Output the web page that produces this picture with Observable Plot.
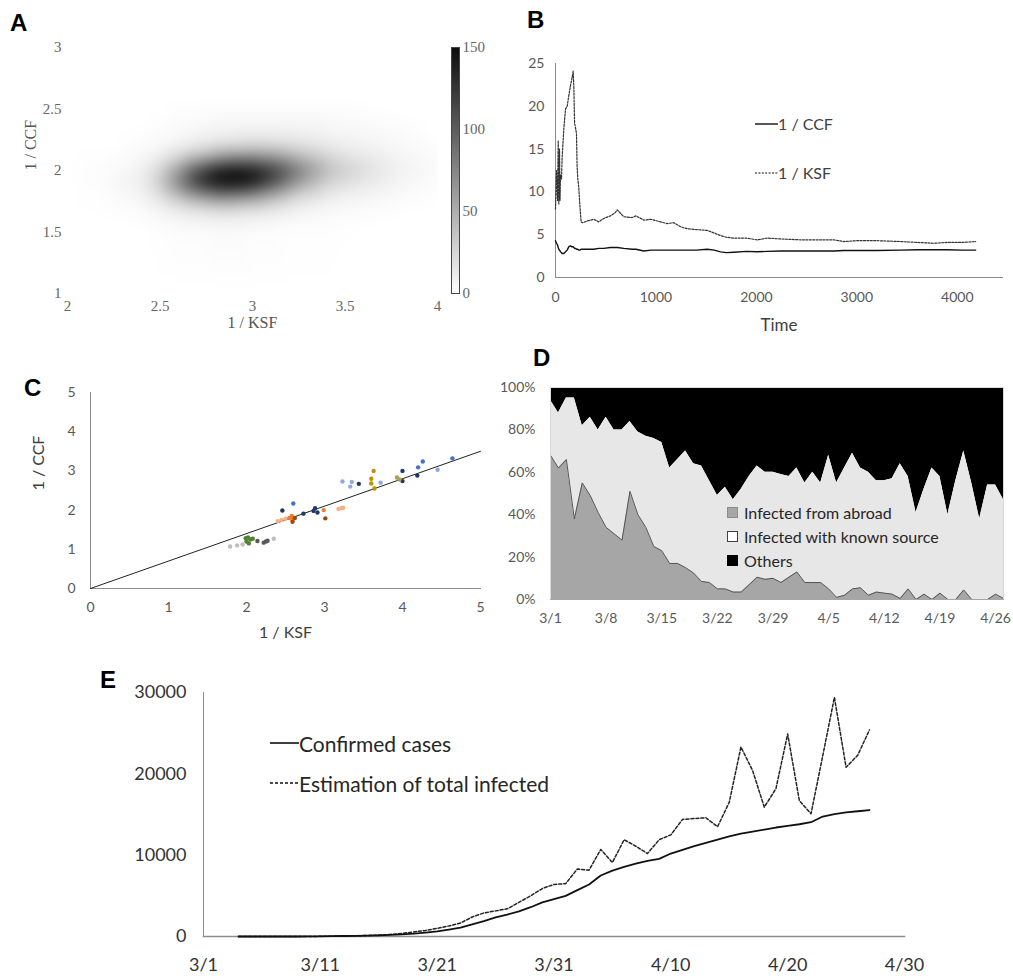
<!DOCTYPE html>
<html>
<head>
<meta charset="utf-8">
<script src="https://cdn.jsdelivr.net/npm/d3@7"></script>
<script src="https://cdn.jsdelivr.net/npm/@observablehq/plot@0.6"></script>
<style>
  body { margin: 0; background: #fff; }
  #root { position: relative; width: 1013px; height: 976px; overflow: hidden; background: #fff; }
  .letter { position: absolute; font-family: "Liberation Sans", Arial, sans-serif; font-weight: bold; font-size: 24px; line-height: 1; color: #000; }
  .leg { position: absolute; display: flex; align-items: center; white-space: nowrap; font-family: Lato, sans-serif; line-height: 1; }
  .leg svg { display: block; }
</style>
</head>
<body>
<div id="root"></div>
<script>
// ================= DATA =================
// Panel A: density of (1/KSF, 1/CCF)
const heatKsf = [2.0, 2.2, 2.4, 2.5, 2.6, 2.7, 2.8, 2.9, 3.0, 3.1, 3.2, 3.3, 3.4, 3.6, 3.8, 4.0];
const heatCcf = [1.0, 1.5, 1.6, 1.7, 1.8, 1.9, 2.0, 2.1, 2.2, 2.3, 2.4, 2.5, 2.6, 3.0];
const heatCount = [
  [0, 0, 0, 0, 0, 0, 0, 0, 0, 0, 0, 0, 0, 0, 0, 0],
  [0, 0, 0, 1, 2, 2, 3, 3, 2, 2, 1, 1, 1, 0, 0, 0],
  [0, 0, 1, 3, 5, 7, 8, 8, 7, 5, 4, 3, 2, 1, 0, 0],
  [0, 1, 3, 8, 15, 22, 28, 28, 24, 18, 12, 8, 5, 3, 1, 0],
  [0, 1, 6, 18, 40, 65, 82, 82, 72, 52, 34, 22, 13, 7, 3, 1],
  [0, 2, 10, 30, 75, 122, 146, 150, 142, 112, 76, 48, 28, 14, 6, 2],
  [0, 2, 8, 25, 62, 108, 138, 148, 144, 124, 96, 68, 42, 21, 9, 2],
  [0, 1, 4, 10, 26, 46, 66, 76, 78, 70, 58, 42, 28, 15, 7, 2],
  [0, 0, 2, 4, 8, 14, 20, 24, 26, 25, 22, 18, 13, 8, 4, 1],
  [0, 0, 1, 2, 4, 6, 8, 9, 10, 10, 10, 9, 7, 5, 3, 0],
  [0, 0, 0, 1, 2, 3, 4, 5, 5, 5, 5, 5, 4, 3, 1, 0],
  [0, 0, 0, 0, 1, 1, 2, 2, 2, 2, 2, 2, 2, 1, 0, 0],
  [0, 0, 0, 0, 0, 0, 0, 0, 0, 0, 0, 0, 0, 0, 0, 0],
  [0, 0, 0, 0, 0, 0, 0, 0, 0, 0, 0, 0, 0, 0, 0, 0]
];
const heatTicksX = [2, 2.5, 3, 3.5, 4];
const heatTicksY = [1, 1.5, 2, 2.5, 3];
const colorbarTicks = [0, 50, 100, 150];
const aLabels = ["1 / KSF", "1 / CCF"];

// Panel B: time series
const bTime = [0, 10, 20, 27, 33, 40, 45, 50, 60, 66, 83, 100, 116, 133, 150, 160, 176, 183, 190, 199, 209, 215, 222, 232, 242, 255, 270, 315, 381, 430, 481, 547, 597, 614, 680, 763, 800, 879, 950, 1045, 1112, 1178, 1250, 1311, 1400, 1510, 1580, 1643, 1700, 1776, 1900, 2008, 2108, 2250, 2440, 2600, 2772, 2871, 3000, 3200, 3436, 3600, 3768, 3900, 4050, 4183];
const bKsf = [8.0, 12.5, 9.0, 16.0, 8.6, 15.0, 9.0, 12.0, 11.5, 14.0, 17.4, 19.7, 20.0, 21.3, 22.5, 23.0, 24.1, 22.0, 18.0, 17.5, 16.8, 13.0, 11.5, 10.5, 8.5, 6.5, 6.4, 6.6, 6.8, 6.5, 6.9, 7.2, 7.6, 7.9, 7.1, 7.0, 7.2, 6.7, 6.8, 6.5, 6.3, 6.4, 5.9, 5.7, 5.6, 5.5, 5.2, 4.9, 4.7, 4.6, 4.6, 4.4, 4.6, 4.5, 4.4, 4.4, 4.4, 4.2, 4.3, 4.3, 4.2, 4.1, 4.0, 4.1, 4.1, 4.2];
const bCcf = [4.3, 4.0, 3.8, 3.5, 3.3, 3.2, 3.1, 3.0, 2.9, 2.8, 2.8, 3.0, 3.2, 3.6, 3.7, 3.6, 3.6, 3.5, 3.4, 3.4, 3.3, 3.3, 3.3, 3.2, 3.2, 3.3, 3.3, 3.3, 3.3, 3.4, 3.4, 3.5, 3.5, 3.5, 3.4, 3.3, 3.3, 3.1, 3.2, 3.2, 3.2, 3.2, 3.2, 3.2, 3.2, 3.3, 3.2, 3.0, 2.9, 2.95, 3.05, 3.0, 3.05, 3.1, 3.1, 3.1, 3.1, 3.15, 3.15, 3.15, 3.2, 3.25, 3.25, 3.25, 3.2, 3.2];
const bTicksX = [0, 1000, 2000, 3000, 4000];
const bTicksY = [0, 5, 10, 15, 20, 25];
const bSeries = ["1 / CCF", "1 / KSF"];
const bAxisLabel = "Time";

// Panel C: points per group and fitted line
const cKsf = [1.99, 2.02, 2.05, 2.08, 2.00, 2.03,
  1.79, 1.88, 1.95, 2.35,
  2.14, 2.22, 2.27, 2.25,
  2.40, 2.45, 2.50, 3.18, 3.22, 3.24,
  2.55, 2.59, 2.99, 2.58,
  2.59, 3.01, 2.62,
  2.60, 4.20, 4.26, 4.64,
  2.46, 2.73, 2.86, 2.88, 2.91, 3.44, 4.00, 4.00, 4.19,
  3.23, 3.33, 3.35, 3.72, 4.45,
  3.63, 3.60, 3.60, 3.64,
  3.93, 3.96];
const cCcf = [1.28, 1.30, 1.25, 1.27, 1.20, 1.15,
  1.07, 1.10, 1.12, 1.27,
  1.21, 1.17, 1.22, 1.20,
  1.72, 1.75, 1.78, 2.03, 2.05, 2.06,
  1.80, 1.75, 2.00, 1.85,
  1.70, 1.79, 1.80,
  2.17, 3.09, 3.24, 3.32,
  1.99, 1.91, 1.98, 2.05, 1.94, 2.67, 3.00, 2.74, 2.88,
  2.73, 2.60, 2.72, 2.70, 3.03,
  3.00, 2.80, 2.68, 2.55,
  2.83, 2.78];
const cGroup = ["g1","g1","g1","g1","g1","g1",
  "g2","g2","g2","g2",
  "g3","g3","g3","g3",
  "g4","g4","g4","g4","g4","g4",
  "g5","g5","g5","g5",
  "g6","g6","g6",
  "g7","g7","g7","g7",
  "g8","g8","g8","g8","g8","g8","g8","g8","g8",
  "g9","g9","g9","g9","g9",
  "g10","g10","g10","g10",
  "g11","g11"];
const cGroupNames = ["g1","g2","g3","g4","g5","g6","g7","g8","g9","g10","g11"];
const cFitKsf = [0, 5];
const cFitCcf = [0, 3.5];
const cTicks = [0, 1, 2, 3, 4, 5];
const cLabels = ["1 / KSF", "1 / CCF"];

// Panel D: daily shares (%), 3/1 .. 4/27
const dAbroad = [68, 62, 66, 38, 55, 49, 41, 34, 31, 28, 51, 40, 34, 25, 23, 17, 17, 15, 12.5, 8.5, 8, 5, 5, 3.5, 3.5, 7, 10.5, 9.5, 10, 8, 10.5, 13, 8, 8, 8, 5, 1, 2, 5, 5.5, 2, 3.5, 3, 2.5, 0.5, 5, 0, 2.5, 0, 3, 0, 0, 4.5, 0, 0, 0, 2.5, 0.5];
const dAbroadOrKnown = [94, 88, 95, 95, 82, 86, 80, 86, 80, 80, 84, 79, 77, 76, 74, 62, 66, 70, 64, 63, 56, 49, 53, 47, 52, 58, 63, 60, 60, 59, 58, 62, 55, 60, 55, 68, 55, 62, 69, 62, 60, 56, 56, 57, 64, 58, 41, 52, 62, 58, 40, 56, 70, 55, 38, 54, 54, 47];
const dTicksY = [0, 20, 40, 60, 80, 100];
const dNames = ["Infected from abroad", "Infected with known source", "Others"];

// Panel E: daily cumulative counts, 3/4 .. 4/27
const eConfirmed = [0, 0, 0, 0, 0, 0, 5, 20, 40, 60, 80, 110, 150, 200, 270, 350, 480, 630, 850, 1100, 1500, 1900, 2350, 2700, 3100, 3600, 4200, 4600, 5000, 5700, 6400, 7500, 8100, 8550, 8950, 9300, 9550, 10200, 10650, 11100, 11500, 11900, 12300, 12650, 12900, 13150, 13400, 13600, 13800, 14050, 14750, 15050, 15250, 15400, 15550];
const eEstimated = [0, 0, 0, 0, 0, 0, 5, 20, 40, 60, 90, 120, 170, 250, 380, 560, 750, 1000, 1300, 1650, 2400, 2900, 3150, 3400, 4200, 5000, 5900, 6400, 6500, 8300, 8150, 10700, 9100, 11900, 11100, 10200, 11900, 12500, 14400, 14500, 14600, 13500, 16500, 23300, 20400, 15900, 18200, 24900, 16700, 15100, 22200, 29400, 20800, 22300, 25400];
const eTicksY = [0, 10000, 20000, 30000];
const eNames = ["Confirmed cases", "Estimation of total infected"];

// ================= HELPERS =================
const root = document.getElementById("root");
function place(el, left, top) {
  el.style.position = "absolute";
  el.style.left = left + "px";
  el.style.top = top + "px";
  el.style.background = "transparent";
  el.style.maxWidth = "none";
  root.appendChild(el);
  return el;
}
function letter(t, left, top) {
  const d = document.createElement("div");
  d.className = "letter"; d.textContent = t;
  d.style.left = left + "px"; d.style.top = top + "px";
  root.appendChild(d);
}
function legendRow(left, centerY, swatch, text, fontSize, color) {
  const d = document.createElement("div");
  d.className = "leg";
  d.style.left = left + "px";
  d.style.top = (centerY - 12) + "px";
  d.style.height = "24px";
  d.style.fontSize = fontSize + "px";
  d.style.color = color;
  d.innerHTML = swatch;
  const s = document.createElement("span");
  s.textContent = text;
  d.appendChild(s);
  root.appendChild(d);
}
const lineSwatch = (w, dash, sw) => `<svg width="${w}" height="10"><line x1="0" x2="${w}" y1="5" y2="5" stroke="#111" stroke-width="${sw}" ${dash ? `stroke-dasharray="${dash}"` : ""}/></svg>`;
const boxSwatch = (fill, stroke) => `<svg width="14" height="12" style="margin-right:3px"><rect x="0.5" y="0.5" width="10" height="10" fill="${fill}" stroke="${stroke}"/></svg>`;
const plain = d => String(d);

const heatColor = {type: "linear", domain: [0, 150], range: ["#ffffff", "#0d0d0d"]};

// ================= PANEL A =================
const heatSamples = heatCcf.flatMap((y, i) => heatKsf.map((x, j) => ({x, y, v: heatCount[i][j]})));
place(Plot.plot({
  width: 451, height: 340,
  marginLeft: 67, marginRight: 14, marginTop: 47, marginBottom: 47,
  style: {fontFamily: "'Liberation Serif', 'DejaVu Serif', serif", fontSize: "15px", color: "#666"},
  x: {domain: [2, 4], ticks: heatTicksX, tickFormat: plain, tickSize: 0, tickPadding: 7, label: null},
  y: {domain: [1, 3], ticks: heatTicksY, tickFormat: plain, tickSize: 0, tickPadding: 6, label: null},
  color: heatColor,
  marks: [
    Plot.raster(heatSamples, {x: "x", y: "y", fill: "v", interpolate: "barycentric", blur: 6}),
    Plot.text([aLabels[0]], {frameAnchor: "bottom", dy: 34, fontSize: 16, fill: "#555"}),
    Plot.text([aLabels[1]], {frameAnchor: "left", dx: -37, rotate: -90, fontSize: 16, fill: "#555"})
  ]
}), 0, 0);

// colour bar
place(Plot.plot({
  width: 50, height: 340,
  marginLeft: 1, marginRight: 41, marginTop: 47, marginBottom: 47,
  style: {fontFamily: "'Liberation Serif', 'DejaVu Serif', serif", fontSize: "15px", color: "#666"},
  x: {domain: [0, 1], axis: null},
  y: {domain: [0, 150], axis: "right", ticks: colorbarTicks, tickSize: 0, tickPadding: 3, label: null},
  color: heatColor,
  marks: [
    Plot.raster({x1: 0, x2: 1, y1: 0, y2: 150, width: 1, height: 300, fill: (x, y) => y}),
    Plot.frame({stroke: "#444"})
  ]
}), 450, 0);

// ================= PANEL B =================
const bRows = bTime.map((t, i) => ({t, ccf: bCcf[i], ksf: bKsf[i]}));
place(Plot.plot({
  width: 513, height: 340,
  marginLeft: 55, marginRight: 11, marginTop: 63, marginBottom: 63,
  style: {fontFamily: "Lato, 'Open Sans', sans-serif", fontSize: "14px", color: "#595959"},
  x: {domain: [0, 4450], ticks: bTicksX, tickFormat: "d", tickSize: 0, tickPadding: 15, label: null},
  y: {domain: [0, 25], ticks: bTicksY, tickSize: 0, tickPadding: 11, label: null},
  marks: [
    Plot.frame({anchor: "left", stroke: "#8c8c8c"}),
    Plot.frame({anchor: "bottom", stroke: "#8c8c8c"}),
    Plot.line(bRows, {x: "t", y: "ksf", stroke: "#333", strokeWidth: 1.2, strokeDasharray: "2,1.4"}),
    Plot.line(bRows, {x: "t", y: "ccf", stroke: "#111", strokeWidth: 1.4}),
    Plot.text([bAxisLabel], {frameAnchor: "bottom", dy: 53, fontSize: 17, fill: "#404040"})
  ]
}), 500, 0);
legendRow(755, 124, lineSwatch(23, null, 1.4), bSeries[0], 16, "#404040");
legendRow(755, 173, lineSwatch(23, "2,1.4", 1.2), bSeries[1], 16, "#404040");

// ================= PANEL C =================
const cColors = ["#548235", "#bfbfbf", "#595959", "#f4b183", "#ed7d31", "#9e480e", "#4472c4", "#203864", "#8faadc", "#bf9000", "#a9a057"];
const cRows = cKsf.map((x, i) => ({x, y: cCcf[i], g: cGroup[i]}));
const cFit = cFitKsf.map((x, i) => ({x, y: cFitCcf[i]}));
place(Plot.plot({
  width: 500, height: 300,
  marginLeft: 90, marginRight: 20, marginTop: 52, marginBottom: 52,
  style: {fontFamily: "Lato, 'Open Sans', sans-serif", fontSize: "14px", color: "#595959"},
  x: {domain: [0, 5], ticks: cTicks, tickFormat: plain, tickSize: 0, tickPadding: 14, label: null},
  y: {domain: [0, 5], ticks: cTicks, tickFormat: plain, tickSize: 0, tickPadding: 15, label: null},
  color: {domain: cGroupNames, range: cColors},
  marks: [
    Plot.frame({anchor: "left", stroke: "#8c8c8c"}),
    Plot.frame({anchor: "bottom", stroke: "#8c8c8c"}),
    Plot.line(cFit, {x: "x", y: "y", stroke: "#222", strokeWidth: 1}),
    Plot.dot(cRows, {x: "x", y: "y", fill: "g", r: 2.2}),
    Plot.text([cLabels[0]], {frameAnchor: "bottom", dy: 49, fontSize: 16, fill: "#404040"}),
    Plot.text([cLabels[1]], {frameAnchor: "left", dx: -52, rotate: -90, fontSize: 16, fill: "#404040"})
  ]
}), 0, 340);

// ================= PANEL D =================
const dDates = d3.utcDay.range(new Date(Date.UTC(2020, 2, 1)), new Date(Date.UTC(2020, 3, 28)));
const dRows = dDates.map((date, i) => ({date, abroad: dAbroad[i], top: dAbroadOrKnown[i]}));
const dTicksX = dDates.filter((d, i) => i % 7 === 0);
place(Plot.plot({
  width: 513, height: 300,
  marginLeft: 50, marginRight: 10, marginTop: 47, marginBottom: 41,
  style: {fontFamily: "Lato, 'Open Sans', sans-serif", fontSize: "14px", color: "#595959"},
  x: {type: "utc", domain: [dDates[0], dDates[dDates.length - 1]], ticks: dTicksX, tickFormat: "%-m/%-d", tickSize: 0, tickPadding: 14, label: null},
  y: {domain: [0, 100], ticks: dTicksY, tickFormat: d => d + "%", tickSize: 0, tickPadding: 15, label: null},
  marks: [
    Plot.areaY(dRows, {x: "date", y1: "top", y2: 100, fill: "#000"}),
    Plot.areaY(dRows, {x: "date", y1: "abroad", y2: "top", fill: "#e7e7e7"}),
    Plot.areaY(dRows, {x: "date", y1: 0, y2: "abroad", fill: "#a6a6a6"}),
    Plot.lineY(dRows, {x: "date", y: "abroad", stroke: "#555", strokeWidth: 1}),
    Plot.frame({stroke: "#d9d9d9"}),
    Plot.frame({anchor: "bottom", stroke: "#a6a6a6"})
  ]
}), 500, 340);
legendRow(727, 513, boxSwatch("#a6a6a6", "#8c8c8c"), dNames[0], 16, "#262626");
legendRow(727, 537, boxSwatch("#ffffff", "#404040"), dNames[1], 16, "#262626");
legendRow(727, 561, boxSwatch("#000000", "#000000"), dNames[2], 16, "#262626");

// ================= PANEL E =================
const eDates = d3.utcDay.range(new Date(Date.UTC(2020, 2, 4)), new Date(Date.UTC(2020, 3, 28)));
const eRows = eDates.map((date, i) => ({date, confirmed: eConfirmed[i], estimated: eEstimated[i]}));
const eTicksX = d3.utcDay.range(new Date(Date.UTC(2020, 2, 1)), new Date(Date.UTC(2020, 4, 1)), 10);
place(Plot.plot({
  width: 1013, height: 336,
  marginLeft: 203, marginRight: 109, marginTop: 52, marginBottom: 40,
  style: {fontFamily: "Lato, 'Open Sans', sans-serif", fontSize: "18px", color: "#333"},
  x: {type: "utc", domain: [new Date(Date.UTC(2020, 2, 1)), new Date(Date.UTC(2020, 3, 30))], ticks: eTicksX, tickFormat: "%-m/%-d", tickSize: 0, tickPadding: 22, label: null},
  y: {domain: [0, 30000], ticks: eTicksY, tickFormat: "d", tickSize: 0, tickPadding: 17, label: null},
  marks: [
    Plot.frame({anchor: "left", stroke: "#8c8c8c"}),
    Plot.frame({anchor: "bottom", stroke: "#8c8c8c", strokeWidth: 1.5}),
    Plot.lineY(eRows, {x: "date", y: "estimated", stroke: "#222", strokeWidth: 1.5, strokeDasharray: "3,2"}),
    Plot.lineY(eRows, {x: "date", y: "confirmed", stroke: "#111", strokeWidth: 1.8})
  ]
}), 0, 640);
legendRow(270, 743, lineSwatch(29, null, 1.6), eNames[0], 21, "#262626");
legendRow(270, 783, lineSwatch(29, "3,2", 1.5), eNames[1], 21, "#262626");

// ================= PANEL LETTERS =================
letter("A", 10, 11);
letter("B", 527, 8);
letter("C", 24, 376);
letter("D", 533, 346);
letter("E", 100, 668);
</script>
</body>
</html>
